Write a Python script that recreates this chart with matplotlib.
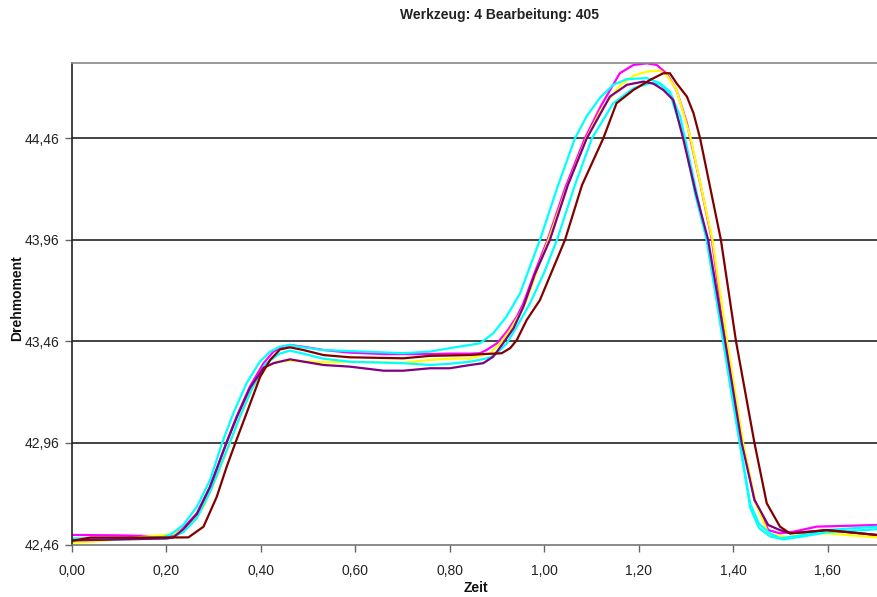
import matplotlib
matplotlib.use("Agg")
import matplotlib.pyplot as plt

plt.rcParams['font.family'] = ['Liberation Sans', 'DejaVu Sans']

# ---------------- DATA ----------------

x_cyan1 = [0, .10, .19, .208, .236, .265, .293, .318, .342, .370, .398, .420, .440, .462, .483,
           .530, .617, .702, .758, .800, .843, .864, .892, .920, .949, .970, .991, 1.028, 1.065,
           1.090, 1.118, 1.146, 1.175, 1.217, 1.245, 1.266, 1.288, 1.298, 1.321, 1.344, 1.362,
           1.379, 1.396, 1.414, 1.436, 1.455, 1.478, 1.500, 1.548, 1.598, 1.704]
y_cyan1 = [42.490, 42.490, 42.495, 42.507, 42.556, 42.646, 42.778, 42.958, 43.106, 43.254, 43.360,
           43.410, 43.434, 43.443, 43.434, 43.418, 43.410, 43.402, 43.410, 43.427, 43.443, 43.451,
           43.500, 43.582, 43.697, 43.830, 43.960, 44.220, 44.460, 44.570, 44.660, 44.724, 44.752,
           44.757, 44.732, 44.690, 44.567, 44.460, 44.210, 43.960, 43.710, 43.460, 43.210, 42.960,
           42.660, 42.560, 42.515, 42.490, 42.507, 42.531, 42.548]

x_magenta = [0, .10, .20, .215, .236, .265, .293, .327, .349, .377, .406, .427, .448, .462, .490,
             .533, .589, .660, .702, .758, .800, .843, .864, .878, .900, .921, .942, .956, .980,
             1.007, 1.045, 1.086, 1.120, 1.160, 1.189, 1.217, 1.238, 1.259, 1.280, 1.302, 1.330,
             1.355, 1.370, 1.386, 1.403, 1.420, 1.445, 1.474, 1.499, 1.527, 1.577, 1.704]
y_magenta = [42.507, 42.505, 42.500, 42.505, 42.540, 42.614, 42.745, 42.958, 43.090, 43.237, 43.353,
             43.410, 43.434, 43.443, 43.434, 43.418, 43.405, 43.398, 43.398, 43.398, 43.400, 43.400,
             43.402, 43.418, 43.451, 43.509, 43.582, 43.648, 43.800, 43.960, 44.220, 44.460, 44.620,
             44.781, 44.822, 44.830, 44.822, 44.780, 44.699, 44.535, 44.240, 43.960, 43.700, 43.460,
             43.210, 42.960, 42.680, 42.531, 42.515, 42.523, 42.548, 42.556]

x_yellow = [0, .08, .16, .20, .222, .250, .279, .307, .334, .356, .384, .413, .434, .462, .533,
            .589, .702, .758, .800, .843, .885, .907, .928, .949, .963, .985, 1.009, 1.048, 1.089,
            1.120, 1.160, 1.190, 1.217, 1.245, 1.259, 1.280, 1.310, 1.356, 1.387, 1.421, 1.448,
            1.474, 1.513, 1.550, 1.598, 1.650, 1.704]
y_yellow = [42.468, 42.480, 42.500, 42.507, 42.516, 42.556, 42.646, 42.794, 42.958, 43.090, 43.237,
            43.336, 43.360, 43.365, 43.357, 43.360, 43.355, 43.369, 43.375, 43.377, 43.402, 43.451,
            43.517, 43.599, 43.664, 43.810, 43.960, 44.220, 44.460, 44.600, 44.720, 44.770, 44.789,
            44.794, 44.773, 44.700, 44.460, 43.960, 43.460, 42.960, 42.660, 42.515, 42.495, 42.510,
            42.515, 42.505, 42.495]

x_cyan2 = [0, .10, .205, .236, .265, .293, .334, .356, .384, .410, .440, .462, .490, .533, .589,
           .702, .758, .800, .843, .885, .900, .921, .942, .970, 1.000, 1.027, 1.065, 1.101, 1.146,
           1.189, 1.224, 1.245, 1.266, 1.296, 1.320, 1.344, 1.379, 1.414, 1.436, 1.455, 1.478,
           1.506, 1.548, 1.598, 1.704]
y_cyan2 = [42.482, 42.485, 42.490, 42.520, 42.590, 42.720, 42.958, 43.090, 43.240, 43.350, 43.400,
           43.415, 43.400, 43.375, 43.360, 43.353, 43.344, 43.350, 43.360, 43.380, 43.402, 43.451,
           43.533, 43.648, 43.800, 43.960, 44.230, 44.460, 44.633, 44.707, 44.732, 44.727, 44.683,
           44.460, 44.180, 43.960, 43.460, 42.960, 42.640, 42.540, 42.500, 42.485, 42.500, 42.520,
           42.535]

x_purple = [0, .10, .20, .215, .236, .265, .293, .327, .349, .377, .406, .427, .462, .533, .589,
            .660, .702, .758, .800, .843, .871, .892, .913, .935, .956, .980, 1.012, 1.050, 1.090,
            1.139, 1.175, 1.210, 1.231, 1.252, 1.273, 1.294, 1.320, 1.347, 1.383, 1.418, 1.445,
            1.474, 1.499, 1.520, 1.548, 1.598, 1.704]
y_purple = [42.480, 42.485, 42.490, 42.495, 42.535, 42.610, 42.745, 42.958, 43.085, 43.230, 43.330,
            43.353, 43.372, 43.344, 43.336, 43.316, 43.316, 43.328, 43.328, 43.344, 43.353, 43.385,
            43.451, 43.525, 43.631, 43.790, 43.960, 44.230, 44.460, 44.666, 44.724, 44.740, 44.730,
            44.699, 44.650, 44.460, 44.200, 43.960, 43.460, 42.960, 42.680, 42.556, 42.531, 42.515,
            42.520, 42.531, 42.507]

x_maroon = [0, .04, .150, .247, .279, .307, .328, .346, .370, .399, .420, .441, .462, .490, .533,
            .589, .702, .758, .843, .864, .910, .928, .942, .963, .991, 1.044, 1.080, 1.125, 1.153,
            1.189, 1.224, 1.252, 1.266, 1.280, 1.302, 1.316, 1.330, 1.352, 1.374, 1.406, 1.445,
            1.471, 1.499, 1.520, 1.548, 1.598, 1.704]
y_maroon = [42.478, 42.494, 42.494, 42.495, 42.548, 42.695, 42.843, 42.958, 43.106, 43.287, 43.369,
            43.421, 43.431, 43.418, 43.393, 43.382, 43.377, 43.389, 43.393, 43.397, 43.402, 43.427,
            43.467, 43.566, 43.664, 43.960, 44.230, 44.460, 44.633, 44.699, 44.748, 44.781, 44.781,
            44.732, 44.666, 44.584, 44.460, 44.210, 43.960, 43.460, 42.960, 42.663, 42.548, 42.515,
            42.520, 42.531, 42.507]

y_ticks = [42.46, 42.96, 43.46, 43.96, 44.46]
x_ticks = [0.0, 0.2, 0.4, 0.6, 0.8, 1.0, 1.2, 1.4, 1.6]

# ---------------- FIGURE ----------------

fig = plt.figure(figsize=(8.77, 5.97), dpi=100)
ax = fig.add_axes([71.7 / 877, 1 - 544.5 / 597, 1 - 71.7 / 877, (544.5 - 63.3) / 597])

series = [
    (x_magenta, y_magenta, '#FF00FF'),
    (x_yellow, y_yellow, '#FFFF00'),
    (x_cyan1, y_cyan1, '#00FFFF'),
    (x_cyan2, y_cyan2, '#00FFFF'),
    (x_purple, y_purple, '#800080'),
    (x_maroon, y_maroon, '#800000'),
]
for xs, ys, col in series:
    ax.plot(xs, ys, color=col, lw=1.6, solid_joinstyle='round')

ax.set_xlim(0, (877 - 71.7) / 472.5)
ax.set_ylim(42.46, 44.83)

ax.set_yticks(y_ticks)
ax.set_yticklabels([f"{v:.2f}".replace('.', ',') for v in y_ticks])
ax.set_xticks(x_ticks)
ax.set_xticklabels([f"{v:.2f}".replace('.', ',') for v in x_ticks])

for v in y_ticks[1:]:
    ax.axhline(v, color='#222222', lw=1.2, zorder=0)

ax.tick_params(axis='both', direction='out', length=5, width=1, color='#666666',
               labelsize=10, labelcolor='#222222')
ax.tick_params(axis='x', pad=9)
ax.tick_params(axis='y', pad=4)

ax.spines['left'].set_color('#222222')
ax.spines['bottom'].set_color('#777777')
ax.spines['top'].set_color('#888888')
ax.spines['right'].set_visible(False)
for s in ax.spines.values():
    s.set_linewidth(1.2)

fig.text(499 / 877, 1 - 15 / 597, "Werkzeug: 4 Bearbeitung: 405", ha='center', va='center',
         fontsize=10, fontweight='bold', color='#222222')
fig.text(476 / 877, 1 - 588 / 597, "Zeit", ha='center', va='center',
         fontsize=10, fontweight='bold', color='#111111')
fig.text(17 / 877, 1 - 298 / 597, "Drehmoment", ha='center', va='center', rotation=90,
         fontsize=10, fontweight='bold', color='#111111')

fig.savefig("out.png", dpi=100)
